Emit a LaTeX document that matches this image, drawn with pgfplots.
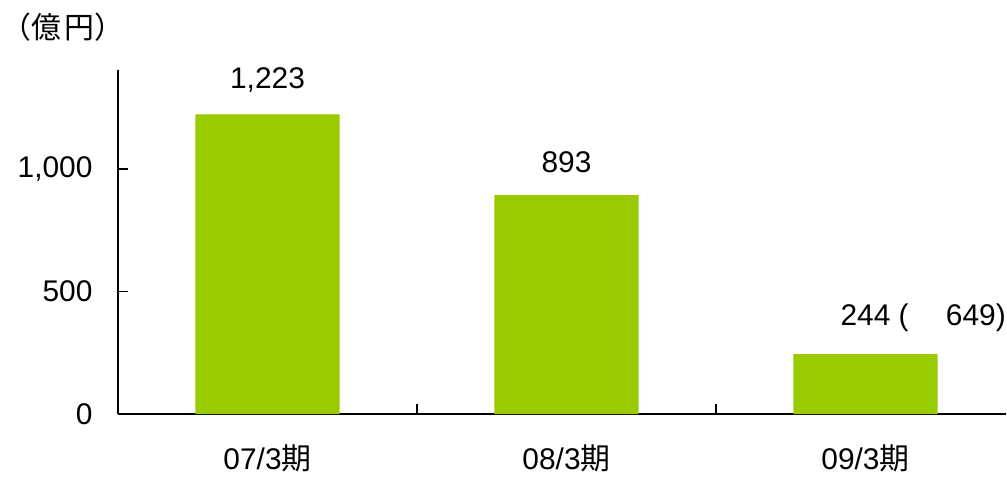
\documentclass[border=0pt]{standalone}
\usepackage{pgfplots}
\pgfplotsset{compat=1.18}
\usepackage{fontspec}
\setmainfont{Liberation Sans}
\newfontfamily\cjk{Noto Sans CJK JP}
\definecolor{bargreen}{RGB}{153,204,0}
\begin{document}
\begin{tikzpicture}
\begin{axis}[
  scale only axis, width=888bp, height=344bp,
  xmin=-0.5, xmax=2.47, ymin=0, ymax=1404,
  ybar, bar width=0.483,
  axis lines=left, axis line style={-, line width=1.5bp, black},
  tick align=inside, major tick length=10bp,
  tick style={line width=1.5bp, black},
  ytick={0,500,1000},
  /pgf/number format/assume math mode=true,
  /pgf/number format/1000 sep={,},
  yticklabel style={font=\fontsize{30}{36}\selectfont, xshift=-22bp},
  xtick={0.5,1.5}, xticklabels={},
  extra x ticks={0,1,2},
  extra x tick labels={07/3{\cjk 期},08/3{\cjk 期},09/3{\cjk 期}},
  extra x tick style={major tick length=0pt, xticklabel style={font=\fontsize{30}{36}\selectfont, inner sep=0pt, yshift=-31bp}},
  nodes near coords,
  point meta=explicit symbolic,
  every node near coord/.append style={font=\fontsize{30}{36}\selectfont, yshift=19bp, black},
]
\addplot[fill=bargreen, draw=none] coordinates {(0,1223)[1{,}223] (1,893)[893] (2,244)[244\rlap{ (\hspace{1.25em}649)}]};
\end{axis}
\node[font=\cjk\fontsize{30}{36}\selectfont, inner sep=0pt] at (-55bp,387bp) {（億\hspace{3bp}円）};
\pgfresetboundingbox
\path[use as bounding box] (-118bp,-63bp) rectangle (889bp,414bp);
\end{tikzpicture}
\end{document}
